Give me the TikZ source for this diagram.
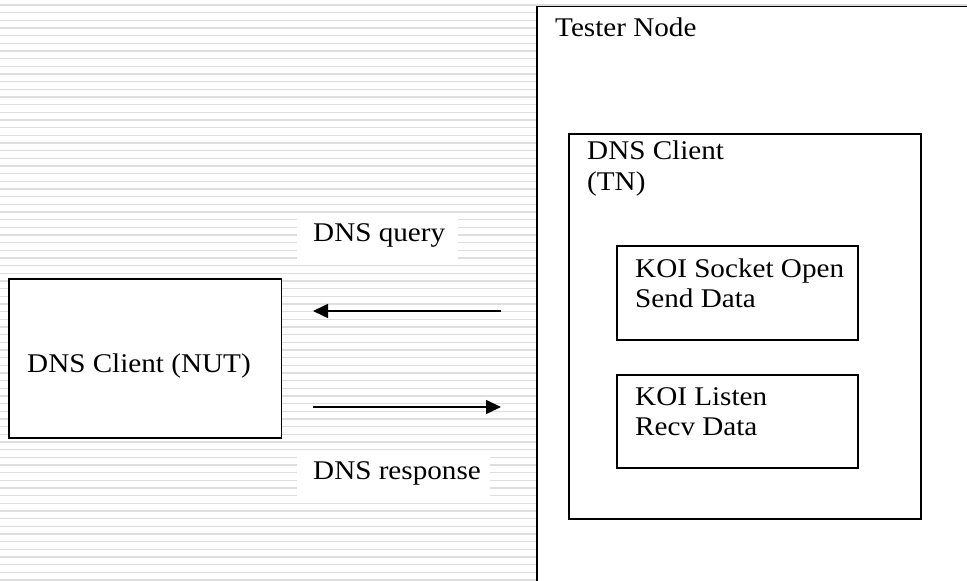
\documentclass[tikz,border=0pt]{standalone}
\usepackage{fontspec}
\setmainfont[FakeStretch=1.08]{Liberation Serif}
\usetikzlibrary{arrows.meta}
\definecolor{hatchgray}{RGB}{222,222,222}
\tikzset{
  hatchline/.style={draw=hatchgray, line width=1.4pt},
  boxline/.style={draw=black, line width=1.6pt, fill=white},
  txt/.style={anchor=base west, inner sep=0pt, font=\fontsize{27}{31}\selectfont},
  msgarrow/.style={draw=black, line width=1.5pt, -{Triangle[length=15pt,width=14pt]}},
  labelbg/.style={fill=white, draw=none}
}
\begin{document}
\begin{tikzpicture}[x=1pt,y=-1pt]
\useasboundingbox (0,0) rectangle (967,581);
\fill[white] (0,0) rectangle (967,581);
% hatch background
\foreach \i in {0,...,75}
  \draw[hatchline] (0,{5+\i*7.667}) -- (967,{5+\i*7.667});
% Tester Node
\draw[boxline] (537,6.5) rectangle (990,600);
\node[txt] (tester) at (555,36) {Tester Node};
% DNS Client TN
\draw[boxline] (569,134) rectangle (921,519);
\node[txt] (tn1) at (587,159) {DNS Client};
\node[txt] (tn2) at (587,190) {(TN)};
% KOI boxes
\draw[boxline] (617,246) rectangle (858,340);
\node[txt] (koi1a) at (635,277) {KOI Socket Open};
\node[txt] (koi1b) at (635,307) {Send Data};
\draw[boxline] (617,375) rectangle (858,468);
\node[txt] (koi2a) at (635,405) {KOI Listen};
\node[txt] (koi2b) at (635,435) {Recv Data};
% NUT
\draw[boxline] (9,279) rectangle (281.5,438);
\node[txt] (nut) at (27,372) {DNS Client (NUT)};
% labels
\fill[labelbg] (297,218) rectangle (458,262);
\node[txt] (qlabel) at (313,241) {DNS query};
\fill[labelbg] (297,457) rectangle (490,500);
\node[txt] (rlabel) at (313,479) {DNS response};
% arrows
\coordinate (qstart) at (501,311);
\coordinate (qend) at (313,311);
\coordinate (rstart) at (313,407);
\coordinate (rend) at (501,407);
\draw[msgarrow] (qstart) -- (qend);
\draw[msgarrow] (rstart) -- (rend);
\end{tikzpicture}
\end{document}
